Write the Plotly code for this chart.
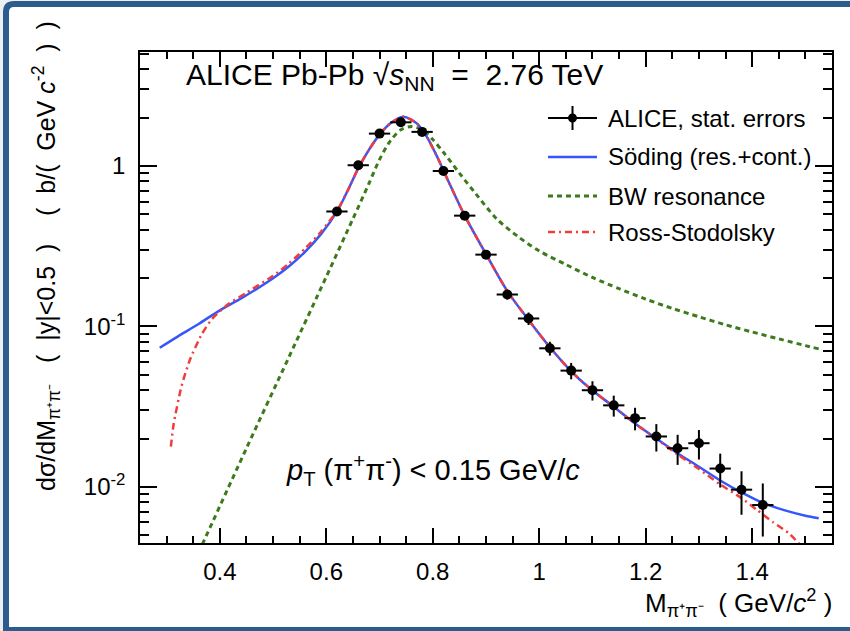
import plotly.graph_objects as go

# ---- measured spectrum (ALICE, stat. errors) ----
mass = [0.62, 0.66, 0.70, 0.74, 0.78, 0.82, 0.86, 0.90, 0.94, 0.98, 1.02,
        1.06, 1.10, 1.14, 1.18, 1.22, 1.26, 1.30, 1.34, 1.38, 1.42]
xsec = [0.52, 1.01, 1.59, 1.87, 1.63, 0.93, 0.49, 0.28, 0.158, 0.112, 0.073,
        0.053, 0.040, 0.0322, 0.0268, 0.0206, 0.0174, 0.0187, 0.0130, 0.0096, 0.0077]
xsec_err = [0.03, 0.05, 0.07, 0.08, 0.07, 0.045, 0.025, 0.016, 0.011, 0.010, 0.0072,
            0.0062, 0.0055, 0.0048, 0.0043, 0.0040, 0.0037, 0.0039, 0.0031, 0.0029, 0.0028]
bin_half_width = 0.02

# ---- Soeding (resonance + continuum) ----
soeding_m = [0.287, 0.32, 0.36, 0.40, 0.44, 0.47, 0.50, 0.53, 0.56, 0.59, 0.62,
             0.64, 0.66, 0.68, 0.70, 0.72, 0.745, 0.77, 0.79, 0.81, 0.83, 0.86,
             0.90, 0.94, 0.98, 1.02, 1.06, 1.10, 1.14, 1.18, 1.22, 1.26,
             1.30, 1.34, 1.38, 1.42, 1.46, 1.50, 1.525]
soeding_y = [0.0736, 0.0861, 0.1035, 0.1259, 0.1496, 0.1718, 0.1995, 0.2371, 0.2917, 0.3758, 0.5188,
             0.6998, 0.9661, 1.2589, 1.5668, 1.841, 2.028, 1.841, 1.496, 1.109, 0.794, 0.490,
             0.282, 0.166, 0.1096, 0.0741, 0.0525, 0.0398, 0.0316, 0.0248, 0.0200, 0.0162,
             0.01334, 0.01096, 0.00923, 0.00794, 0.00716, 0.00661, 0.00638]

# ---- Breit-Wigner resonance ----
bw_m = [0.36, 0.45, 0.53, 0.60, 0.65, 0.68, 0.70, 0.72, 0.74, 0.76, 0.78, 0.80,
        0.82, 0.85, 0.88, 0.92, 0.96, 1.00, 1.05, 1.10, 1.15, 1.20, 1.25, 1.30,
        1.35, 1.40, 1.45, 1.50, 1.525]
bw_y = [0.00389, 0.0174, 0.0646, 0.204, 0.468, 0.776, 1.096, 1.429, 1.679, 1.762, 1.679, 1.462,
        1.216, 0.902, 0.676, 0.468, 0.363, 0.295, 0.243, 0.2018, 0.1718, 0.1479, 0.1294, 0.1148,
        0.1023, 0.0923, 0.0836, 0.0759, 0.0724]

# ---- Ross-Stodolsky ----
rs_m = [0.308, 0.313, 0.328, 0.344, 0.366, 0.385, 0.416, 0.45, 0.50, 0.53, 0.56, 0.59, 0.62,
        0.64, 0.66, 0.68, 0.70, 0.72, 0.745, 0.77, 0.79, 0.81, 0.83, 0.86,
        0.90, 0.94, 0.98, 1.02, 1.06, 1.10, 1.14, 1.18, 1.22, 1.26,
        1.30, 1.34, 1.38, 1.41, 1.44, 1.47, 1.50]
rs_y = [0.0178, 0.0244, 0.0424, 0.0622, 0.0893, 0.1109, 0.1377, 0.1622, 0.2065, 0.2472, 0.3055, 0.389, 0.5248,
        0.6998, 0.9661, 1.2589, 1.5668, 1.841, 2.028, 1.841, 1.496, 1.109, 0.794, 0.490,
        0.282, 0.166, 0.1096, 0.0741, 0.0525, 0.0398, 0.0316, 0.0248, 0.0199, 0.0159,
        0.0129, 0.01035, 0.0085, 0.00714, 0.0060, 0.0051, 0.0040]

x_ticks = [0.4, 0.6, 0.8, 1.0, 1.2, 1.4]
x_tick_text = ["0.4", "0.6", "0.8", "1", "1.2", "1.4"]
y_ticks = [0.01, 0.1, 1]
y_tick_text = ["10<sup>-2</sup>", "10<sup>-1</sup>", "1"]

BLUE = "#3556fb"
GREEN = "#3d7a1c"
RED = "#f23c3c"
FRAME = "#2d5b8e"
FONT = "Liberation Sans"
NB = "\u00a0"

W, H = 850, 631
ML, MR, MT, MB = 140, 18, 52, 88
PW, PH = W - ML - MR, H - MT - MB


def px(x):
    return (x - ML) / PW


def py(y):
    return (H - MB - y) / PH


fig = go.Figure()

fig.add_trace(go.Scatter(x=bw_m, y=bw_y, mode="lines",
                         line=dict(color=GREEN, width=3, dash="5px,4px", shape="spline", smoothing=0.8),
                         showlegend=False, hoverinfo="skip"))
fig.add_trace(go.Scatter(x=soeding_m, y=soeding_y, mode="lines",
                         line=dict(color=BLUE, width=2.5, shape="spline", smoothing=0.8),
                         showlegend=False, hoverinfo="skip"))
fig.add_trace(go.Scatter(x=rs_m, y=rs_y, mode="lines",
                         line=dict(color=RED, width=2.5, dash="7px,4px,2px,4px", shape="spline", smoothing=0.6),
                         showlegend=False, hoverinfo="skip"))
fig.add_trace(go.Scatter(x=mass, y=xsec, mode="markers",
                         marker=dict(color="black", size=10, symbol="circle"),
                         error_y=dict(type="data", array=xsec_err, color="black", thickness=2, width=0),
                         error_x=dict(type="constant", value=bin_half_width, color="black", thickness=2, width=0),
                         showlegend=False))

shapes = []
# outer frame around the canvas
x0, x1 = px(6), px(860)
y0, y1 = py(630), py(4)
r_x, r_y = 8 / PW, 8 / PH
shapes.append(dict(type="path", xref="paper", yref="paper", layer="below",
                   path=(f"M {x0},{y0} L {x0},{y1 - r_y} Q {x0},{y1} {x0 + r_x},{y1} "
                         f"L {x1},{y1} L {x1},{y0} Z"),
                   line=dict(color=FRAME, width=6), fillcolor="white"))

# legend symbols
lx0, lx1, lxm = px(548), px(597), px(572.5)
rows = [118, 157, 196, 232]
shapes.append(dict(type="line", xref="paper", yref="paper", x0=lx0, x1=lx1, y0=py(rows[0]), y1=py(rows[0]),
                   line=dict(color="black", width=2)))
shapes.append(dict(type="line", xref="paper", yref="paper", x0=lxm, x1=lxm, y0=py(rows[0] - 12), y1=py(rows[0] + 12),
                   line=dict(color="black", width=2)))
shapes.append(dict(type="circle", xref="paper", yref="paper", x0=lxm - 4.5 / PW, x1=lxm + 4.5 / PW,
                   y0=py(rows[0]) - 4.5 / PH, y1=py(rows[0]) + 4.5 / PH,
                   fillcolor="black", line=dict(color="black", width=0)))
shapes.append(dict(type="line", xref="paper", yref="paper", x0=lx0, x1=lx1, y0=py(rows[1]), y1=py(rows[1]),
                   line=dict(color=BLUE, width=2.5)))
shapes.append(dict(type="line", xref="paper", yref="paper", x0=lx0, x1=lx1, y0=py(rows[2]), y1=py(rows[2]),
                   line=dict(color=GREEN, width=3, dash="5px,4px")))
shapes.append(dict(type="line", xref="paper", yref="paper", x0=lx0, x1=lx1, y0=py(rows[3]), y1=py(rows[3]),
                   line=dict(color=RED, width=2.5, dash="7px,4px,2px,4px")))

legend_text = ["ALICE, stat. errors", "Söding (res.+cont.)", "BW resonance", "Ross-Stodolsky"]
annotations = []
for row, txt in zip(rows, legend_text):
    annotations.append(dict(xref="paper", yref="paper", x=px(606), y=py(row), xanchor="left", yanchor="middle",
                            text=txt, showarrow=False, font=dict(family=FONT, size=24, color="black")))

annotations.append(dict(xref="paper", yref="paper", x=px(184), y=py(76), xanchor="left", yanchor="middle",
                        text=f"ALICE Pb-Pb{NB}√<i>s</i><sub>NN</sub>{NB}{NB}={NB}{NB}2.76 TeV", showarrow=False,
                        font=dict(family=FONT, size=30, color="black")))
annotations.append(dict(xref="paper", yref="paper", x=px(284), y=py(470), xanchor="left", yanchor="middle",
                        text=f"<i>p</i><sub>T</sub>{NB}(π<sup>+</sup>π<sup>-</sup>){NB}&lt;{NB}0.15 GeV/<i>c</i>",
                        showarrow=False, font=dict(family=FONT, size=29, color="black")))
annotations.append(dict(xref="paper", yref="paper", x=px(834), y=py(603), xanchor="right", yanchor="middle",
                        text=f"M<sub>π⁺π⁻</sub>{NB}{NB}({NB}GeV/<i>c</i><sup>2</sup>{NB})", showarrow=False,
                        font=dict(family=FONT, size=26, color="black")))
annotations.append(dict(xref="paper", yref="paper", x=px(46), y=py(256), xanchor="center", yanchor="middle",
                        textangle=-90,
                        text=(f"dσ/dM<sub>π⁺π⁻</sub>{NB*3}({NB*2}|y|&lt;0.5{NB*2}){NB*4}"
                              f"({NB*2}b/({NB*2}GeV <i>c</i><sup>-2</sup>{NB*2}){NB*2})"),
                        showarrow=False, font=dict(family=FONT, size=25, color="black")))

fig.update_layout(
    width=W, height=H,
    margin=dict(l=ML, r=MR, t=MT, b=MB),
    paper_bgcolor="#eceff2", plot_bgcolor="white",
    shapes=shapes, annotations=annotations,
    font=dict(family=FONT, size=24, color="black"),
)
fig.update_xaxes(range=[0.25, 1.55], showgrid=False, zeroline=False,
                 showline=True, linecolor="black", linewidth=1.5, mirror="ticks",
                 ticks="inside", ticklen=15, tickwidth=1.5, tickcolor="black",
                 tickvals=x_ticks, ticktext=x_tick_text, ticklabelstandoff=6,
                 tickfont=dict(family=FONT, size=24),
                 minor=dict(ticks="inside", ticklen=7, tickwidth=1.5, tickcolor="black", dtick=0.05, tick0=0.25))
fig.update_yaxes(type="log", range=[-2.35, 0.71], showgrid=False, zeroline=False,
                 showline=True, linecolor="black", linewidth=1.5, mirror="ticks",
                 ticks="inside", ticklen=17, tickwidth=1.5, tickcolor="black",
                 tickvals=y_ticks, ticktext=y_tick_text, ticklabelstandoff=8,
                 tickfont=dict(family=FONT, size=24),
                 minor=dict(ticks="inside", ticklen=9, tickwidth=1.5, tickcolor="black", dtick="D1"))

fig.write_html("out.html")
